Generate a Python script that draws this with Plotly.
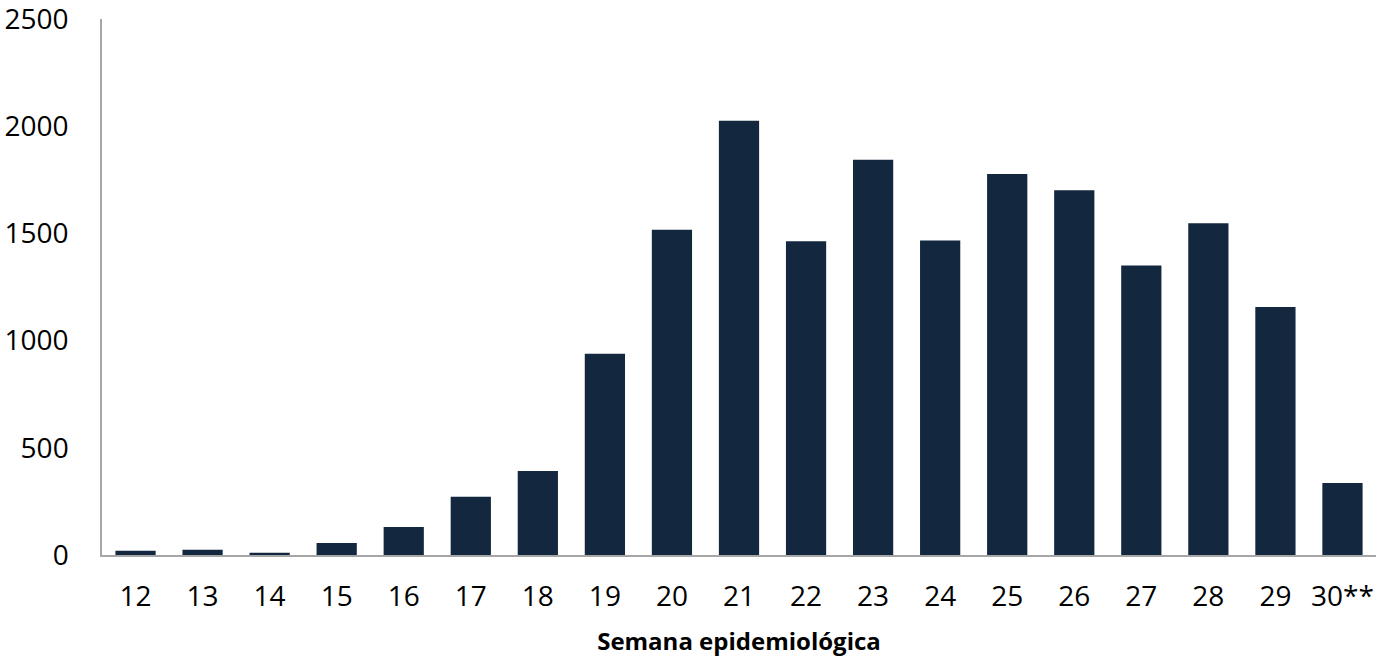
import plotly.graph_objects as go

semanas = ["12", "13", "14", "15", "16", "17", "18", "19", "20", "21",
           "22", "23", "24", "25", "26", "27", "28", "29", "30**"]
casos = [20, 25, 11, 56, 131, 272, 392, 939, 1517, 2025,
         1463, 1843, 1467, 1777, 1701, 1350, 1547, 1157, 336]
y_ticks = [0, 500, 1000, 1500, 2000, 2500]

fig = go.Figure(go.Bar(
    x=semanas, y=casos,
    marker=dict(color="#13273F", line=dict(width=0)),
    width=0.6,
))

fig.update_layout(
    width=1387, height=657,
    margin=dict(l=102, r=11, t=19, b=102),
    plot_bgcolor="white", paper_bgcolor="white",
    font=dict(family="Open Sans, Liberation Sans, sans-serif", size=28, color="#000000"),
    showlegend=False,
    bargap=0.4,
)
fig.update_xaxes(
    type="category", automargin=False,
    showline=True, linecolor="#A6A6A6", linewidth=1.5,
    showgrid=False, ticks="", ticklabelstandoff=16, ticklabeloverflow="allow",
    title=dict(text="<b>Semana epidemiológica</b>", font=dict(size=24), standoff=26),
)
fig.update_yaxes(
    range=[0, 2500], tickvals=y_ticks, automargin=False,
    showline=True, linecolor="#A6A6A6", linewidth=1.5,
    showgrid=False, zeroline=False, ticks="", ticklabelstandoff=26,
    ticklabeloverflow="allow",
)

fig.write_html("out.html", config={"displayModeBar": False},
               post_script="document.body.style.margin='0';")
